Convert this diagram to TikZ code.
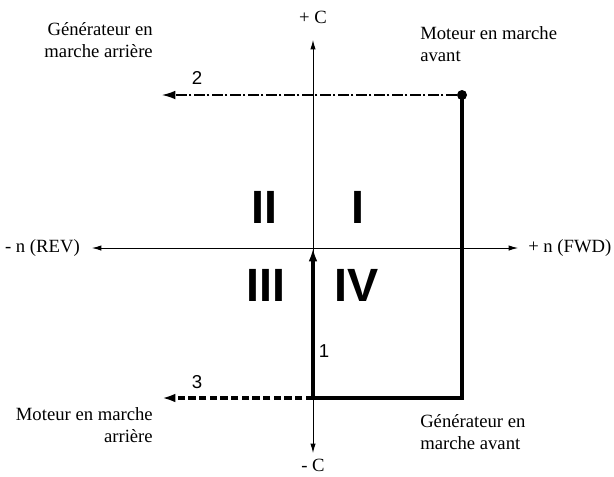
\documentclass[tikz,border=0pt]{standalone}
\usepackage{fontspec}
\setmainfont{Liberation Serif}
\newfontfamily\helv{Liberation Sans}
\usepackage{tikz}
\usetikzlibrary{arrows.meta}
\tikzset{
  axis/.style={line width=0.6pt,{Latex[length=7pt,width=4pt]}-{Latex[length=7pt,width=4pt]}},
  thickpath/.style={line width=2.5pt,line join=miter},
  thickarr/.style={line width=2.5pt,-{Latex[length=10pt,width=6.5pt]}},
  dashdot/.style={line width=1pt,dash pattern=on 8pt off 2pt on 1.5pt off 2pt,-{Latex[length=10pt,width=6.5pt]}},
  dash3/.style={line width=2.5pt,dash pattern=on 5.5pt off 2.5pt,-{Latex[length=10pt,width=6.5pt]}},
  lbl/.style={font=\fontsize{14}{17}\selectfont,inner sep=0pt},
  num/.style={font=\helv\fontsize{14}{17}\selectfont,inner sep=0pt},
  quad/.style={font=\helv\bfseries\fontsize{35}{40}\selectfont,inner sep=0pt},
  dot/.style={circle,fill,inner sep=0pt,minimum size=7.5pt},
}

\begin{document}
\begin{tikzpicture}[x=0.75pt,y=-0.75pt]
\useasboundingbox (0,0) rectangle (614,476);

% axes
\coordinate (O) at (313,248);
\coordinate (ctop) at (313,40);
\coordinate (cbot) at (313,453);
\coordinate (nleft) at (92,248);
\coordinate (nright) at (518,248);
\draw[axis] (cbot) -- (ctop);
\draw[axis] (nleft) -- (nright);
\node[lbl] (plusC) at (313,17) {+ C};
\node[lbl] (minusC) at (313,465) {- C};
\node[lbl, anchor=east] (rev) at (80,248) {- n (REV)};
\node[lbl, anchor=west] (fwd) at (528,248) {+ n (FWD)};

% quadrants
\node[quad] (q2) at (264,207) {II};
\node[quad] (q1) at (358,207) {I};
\node[quad] (q3) at (266,285) {III};
\node[quad] (q4) at (357,285) {IV};

% operating points
\node[dot] (fmot) at (462,95) {};
\coordinate (fgen) at (462,398);
\coordinate (start) at (313,398);
\coordinate (end2) at (162,95);
\coordinate (end3) at (162,398);

\draw[thickpath] (fmot.center) -- (fgen) -- (start);
\draw[thickarr] (start) -- (O);
\draw[dashdot] (fmot) -- (end2);
\draw[dash3] (start) -- (end3);

\node[num] (n1) at (324,351) {1};
\node[num] (n2) at (197,78) {2};
\node[num] (n3) at (197,382) {3};

% regimes
\node[lbl, align=right, anchor=east] (genrev) at (153,40) {Générateur en\\marche arrière};
\node[lbl, align=left, anchor=west] (motfwd) at (420,44) {Moteur en marche\\avant};
\node[lbl, align=right, anchor=east] (motrev) at (153,425) {Moteur en marche\\arrière};
\node[lbl, align=left, anchor=west] (genfwd) at (420,432) {Générateur en\\marche avant};

\end{tikzpicture}
\end{document}
